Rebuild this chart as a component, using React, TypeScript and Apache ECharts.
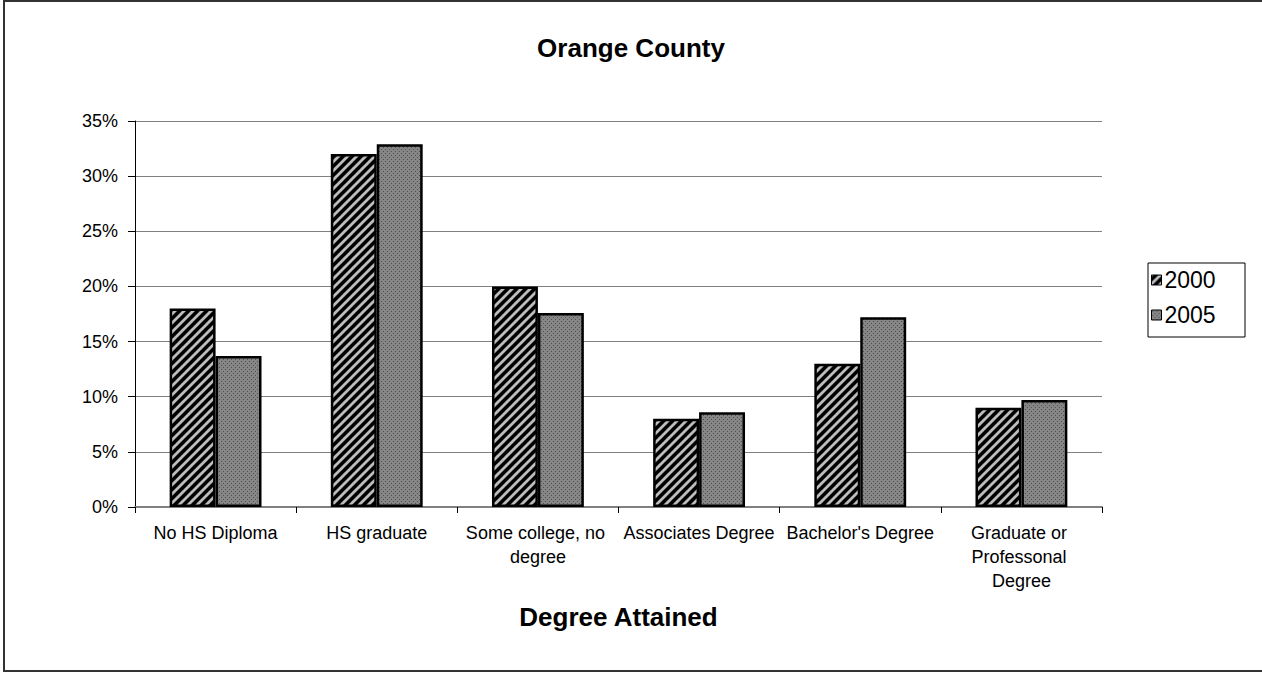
import React, { useEffect, useRef } from "react";
import * as echarts from "echarts";

const categories = [
  "No HS Diploma",
  "HS graduate",
  "Some college, no degree",
  "Associates Degree",
  "Bachelor's Degree",
  "Graduate or Professonal Degree",
];
const values2000 = [18, 32, 20, 8, 13, 9];
const values2005 = [13.7, 32.9, 17.6, 8.6, 17.2, 9.7];
const seriesNames = ["2000", "2005"];
const yMin = 0;
const yMax = 35;
const yStep = 5;

const FONT = "Arial, 'Liberation Sans', Helvetica, sans-serif";

function svgUrl(svg: string) {
  return "data:image/svg+xml;charset=utf-8," + encodeURIComponent(svg);
}

const stripeTile = svgUrl(
  "<svg xmlns='http://www.w3.org/2000/svg' width='9' height='9'>" +
    "<rect width='9' height='9' fill='#000'/>" +
    "<path d='M-2 2L2 -2M0 9L9 0M7 11L11 7' stroke='#bdbdbd' stroke-width='2.8'/>" +
    "</svg>"
);
const dotTile = svgUrl(
  "<svg xmlns='http://www.w3.org/2000/svg' width='4' height='4'>" +
    "<rect width='4' height='4' fill='#868686'/>" +
    "<rect x='1' y='1' width='1' height='1' fill='#4e4e4e'/>" +
    "<rect x='3' y='3' width='1' height='1' fill='#4e4e4e'/>" +
    "</svg>"
);

export default function App() {
  const ref = useRef<HTMLDivElement>(null);

  useEffect(() => {
    if (!ref.current) return;
    const chart = echarts.init(ref.current, null, { renderer: "svg" });
    const stripePattern: any = { image: stripeTile, repeat: "repeat", imageWidth: 9, imageHeight: 9 };
    const dotPattern: any = { image: dotTile, repeat: "repeat", imageWidth: 4, imageHeight: 4 };

    chart.setOption({
      animation: false,
      backgroundColor: "#ffffff",
      textStyle: { fontFamily: FONT },
      title: {
        text: "Orange County",
        left: "center",
        top: 30,
        textStyle: { fontSize: 26, fontWeight: "bold", color: "#000", fontFamily: FONT },
      },
      graphic: [
        {
          type: "rect",
          shape: { x: 4, y: 1, width: 1290, height: 670 },
          style: { fill: "none", stroke: "#333", lineWidth: 2 },
          silent: true,
          z: 100,
        },
        {
          type: "rect",
          shape: { x: 1148, y: 263, width: 97, height: 74 },
          style: { fill: "none", stroke: "#000", lineWidth: 1 },
          silent: true,
          z: 100,
        },
      ],
      legend: {
        orient: "vertical",
        left: 1151,
        top: 268,
        padding: 0,
        itemWidth: 10,
        itemHeight: 10,
        itemGap: 11,
        icon: "rect",
        itemStyle: { borderWidth: 1, borderColor: "#000" },
        textStyle: { fontSize: 23, lineHeight: 24, color: "#000", fontFamily: FONT, padding: [0, 0, 0, -2] },
        data: seriesNames,
      },
      grid: { left: 135, right: 160, top: 121, bottom: 166, containLabel: false },
      xAxis: {
        type: "category",
        data: categories,
        name: "Degree Attained",
        nameLocation: "middle",
        nameGap: 97,
        nameTextStyle: { fontSize: 26, fontWeight: "bold", color: "#000", fontFamily: FONT },
        axisLine: { show: true, lineStyle: { color: "#808080", width: 2 } },
        axisTick: { show: true, length: 6, lineStyle: { color: "#000", width: 1 } },
        axisLabel: {
          interval: 0,
          margin: 14,
          fontSize: 18,
          lineHeight: 24,
          color: "#000",
          fontFamily: FONT,
          width: 158,
          overflow: "break",
          align: "center",
        },
      },
      yAxis: {
        type: "value",
        min: yMin,
        max: yMax,
        interval: yStep,
        axisLine: { show: true, lineStyle: { color: "#000", width: 1 } },
        axisTick: { show: true, length: 7, lineStyle: { color: "#000" } },
        axisLabel: { formatter: "{value}%", fontSize: 18, margin: 17, color: "#000", fontFamily: FONT },
        splitLine: { show: true, lineStyle: { color: "#808080", width: 1 } },
      },
      series: [
        {
          name: seriesNames[0],
          type: "bar",
          data: values2000,
          barGap: "0%",
          barCategoryGap: "43%",
          itemStyle: { color: stripePattern, borderColor: "#000", borderWidth: 2.5 },
        },
        {
          name: seriesNames[1],
          type: "bar",
          data: values2005,
          barGap: "0%",
          barCategoryGap: "43%",
          itemStyle: { color: dotPattern, borderColor: "#000", borderWidth: 2.5 },
        },
      ],
    });
    return () => chart.dispose();
  }, []);

  return (
    <div
      ref={ref}
      style={{ position: "absolute", left: 0, top: 0, width: 1262, height: 673 }}
    />
  );
}
